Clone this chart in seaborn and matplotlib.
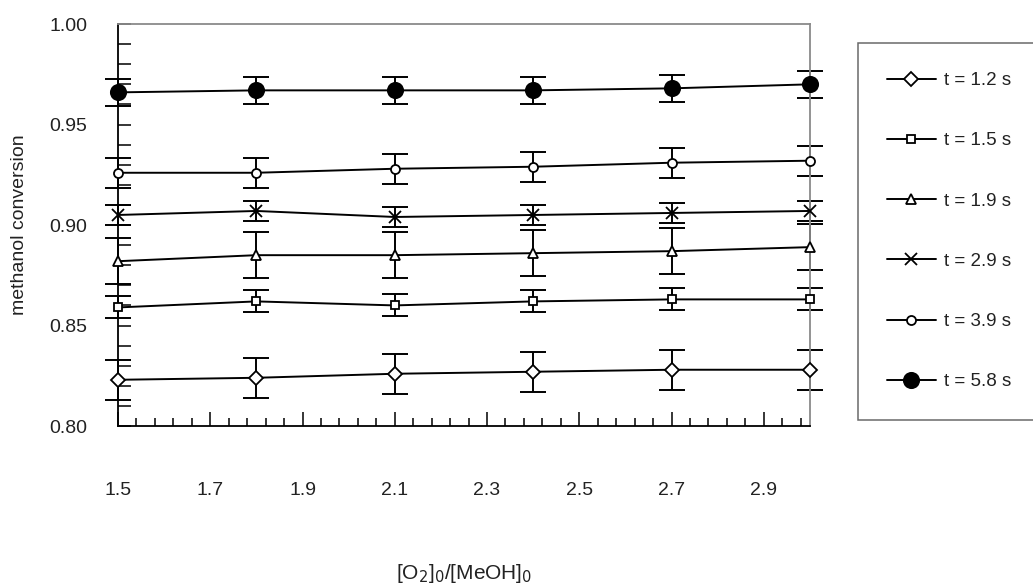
import numpy as np
import pandas as pd
import seaborn as sns
import matplotlib.pyplot as plt
from matplotlib.ticker import MultipleLocator, AutoMinorLocator, FormatStrFormatter

# O2/MeOH feed ratio
ratio = [1.5, 1.8, 2.1, 2.4, 2.7, 3.0]

# methanol conversion for each residence time
conv_12 = [0.823, 0.824, 0.826, 0.827, 0.828, 0.828]
conv_15 = [0.859, 0.862, 0.860, 0.862, 0.863, 0.863]
conv_19 = [0.882, 0.885, 0.885, 0.886, 0.887, 0.889]
conv_29 = [0.905, 0.907, 0.904, 0.905, 0.906, 0.907]
conv_39 = [0.926, 0.926, 0.928, 0.929, 0.931, 0.932]
conv_58 = [0.966, 0.967, 0.967, 0.967, 0.968, 0.970]

# error bar half widths
err_12 = 0.010
err_15 = 0.0055
err_19 = 0.0115
err_29 = 0.005
err_39 = 0.0075
err_58 = 0.0068

labels = ['t = 1.2 s', 't = 1.5 s', 't = 1.9 s', 't = 2.9 s', 't = 3.9 s', 't = 5.8 s']
x_ticks = [1.5, 1.7, 1.9, 2.1, 2.3, 2.5, 2.7, 2.9]

series = [
    (conv_12, err_12, 'D', 7, 'white'),
    (conv_15, err_15, 's', 6, 'white'),
    (conv_19, err_19, '^', 7, 'white'),
    (conv_29, err_29, 'x', 9, 'white'),
    (conv_39, err_39, 'o', 6.5, 'white'),
    (conv_58, err_58, 'o', 11, 'black'),
]

sns.set_style('ticks')
plt.rcParams['font.family'] = ['Liberation Sans', 'DejaVu Sans']

fig = plt.figure(figsize=(10.33, 5.86), dpi=100)
ax = fig.add_axes([0.1142, 0.273, 0.6699, 0.686])

for (vals, err, m, ms, fc), lab in zip(series, labels):
    sns.lineplot(x=ratio, y=vals, marker=m, markersize=ms, color='black',
                 markerfacecolor=fc, markeredgecolor='black', markeredgewidth=1.3,
                 linewidth=1.4, label=lab, ax=ax, clip_on=False, zorder=3)
    ax.errorbar(ratio, vals, yerr=err, fmt='none', ecolor='black',
                elinewidth=1.4, capsize=9.5, capthick=1.4, clip_on=False, zorder=2)

ax.set_xlim(1.5, 3.0)
ax.set_ylim(0.80, 1.00)
ax.set_xticks(x_ticks)
ax.xaxis.set_minor_locator(AutoMinorLocator(5))
ax.yaxis.set_major_locator(MultipleLocator(0.05))
ax.yaxis.set_minor_locator(MultipleLocator(0.01))
ax.yaxis.set_major_formatter(FormatStrFormatter('%.2f'))

ax.tick_params(axis='both', which='both', direction='in', color='black', width=1.1,
               labelsize=14, labelcolor='#222222')
ax.tick_params(axis='y', which='both', length=9, pad=22)
ax.tick_params(axis='x', which='major', length=10, pad=40)
ax.tick_params(axis='x', which='minor', length=6)

for s in ['left', 'bottom']:
    ax.spines[s].set_color('black')
    ax.spines[s].set_linewidth(1.3)
for s in ['top', 'right']:
    ax.spines[s].set_color('#8a8a8a')
    ax.spines[s].set_linewidth(1.3)

ax.set_ylabel('methanol conversion', fontsize=14, color='#222222')
ax.yaxis.set_label_coords(-0.142, 0.5)
ax.yaxis.label.set_va('center')
ax.set_xlabel('[O$_2$]$_0$/[MeOH]$_0$', fontsize=15, color='#222222')
ax.xaxis.set_label_coords(0.5, -0.366)
ax.xaxis.label.set_va('center')

handles, labs = ax.get_legend_handles_labels()
ax.get_legend().remove()
leg = fig.legend(handles, labs, loc='upper left', bbox_to_anchor=(0.8306, 0.9266),
                 frameon=True, fancybox=False, edgecolor='#444444', fontsize=13.5,
                 labelspacing=2.3, handlelength=2.6, handletextpad=0.45,
                 borderpad=1.55, borderaxespad=0)
leg.get_frame().set_linewidth(1.1)
for t in leg.get_texts():
    t.set_color('#222222')

fig.savefig('out.png', dpi=100)
